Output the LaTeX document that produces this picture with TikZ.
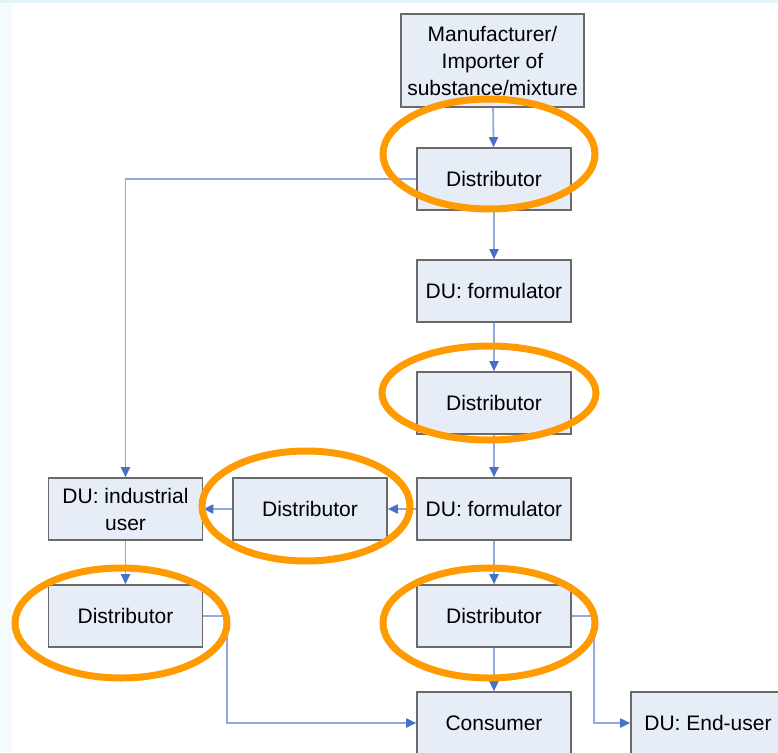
\documentclass[tikz,border=0pt]{standalone}
\usepackage{fontspec}
\setmainfont{Liberation Sans}
\usetikzlibrary{arrows.meta}

\definecolor{Cboxfill}{HTML}{E6EDF7}
\definecolor{Cboxline}{HTML}{6A6A6A}
\definecolor{Clinkblue}{HTML}{8FAADC}
\definecolor{Ctipblue}{HTML}{4472C4}
\definecolor{Cring}{HTML}{FF9A00}
\definecolor{Cstrip}{HTML}{E2F4F7}

\begin{document}
\begin{tikzpicture}[x=1pt,y=-1pt,
		actor/.style={draw=Cboxline,line width=1.6pt,fill=Cboxfill,
			minimum width=154pt,minimum height=62pt,inner sep=2pt,
			align=center,font=\fontsize{21}{27}\selectfont},
		link/.style={draw=Clinkblue,line width=1.8pt,
			-{Triangle[length=10pt,width=9pt,color=Ctipblue]}},
		ring/.style={draw=Cring,line width=7pt}]
		\useasboundingbox (0,0) rectangle (778,752);
		\fill[white] (0,0) rectangle (778,752);
		\fill[Cstrip] (0,0) rectangle (778,3);
		\fill[Cstrip!40] (0,3) rectangle (12,752);

		\node[actor,minimum width=183pt,minimum height=93pt] (maker) at (492.5,60.5)
		{Manufacturer/\\Importer of\\substance/mixture};
		\node[actor] (dist1) at (494,179) {Distributor};
		\node[actor] (form1) at (494,291) {DU: formulator};
		\node[actor] (dist2) at (494,403) {Distributor};
		\node[actor] (form2) at (494,509) {DU: formulator};
		\node[actor] (dist3) at (310,509) {Distributor};
		\node[actor] (induser) at (125.5,509) {DU: industrial\\user};
		\node[actor] (dist4) at (125.5,616) {Distributor};
		\node[actor] (dist5) at (494,616) {Distributor};
		\node[actor] (consumer) at (494,723) {Consumer};
		\node[actor] (enduser) at (708,723) {DU: End-user};

		\draw[link] (maker) -- (dist1);
		\draw[link] (dist1) -- (form1);
		\draw[link] (form1) -- (dist2);
		\draw[link] (dist2) -- (form2);
		\draw[link] (form2) -- (dist5);
		\draw[link] (dist5) -- (consumer);
		\draw[link] (form2) -- (dist3);
		\draw[link] (dist3) -- (induser);
		\draw[link] (induser) -- (dist4);
		\draw[link] (dist1.west) -| (induser.north);
		\draw[link] (dist4.east) -- ++(24,0) |- (consumer.west);
		\draw[link] (dist5.east) -- ++(22,0) |- (enduser.west);

		\draw[ring] (489,154) ellipse [x radius=106,y radius=55];
		\draw[ring] (489,393) ellipse [x radius=107,y radius=47];
		\draw[ring] (306,506) ellipse [x radius=104,y radius=55];
		\draw[ring] (121,623) ellipse [x radius=106,y radius=55];
		\draw[ring] (489,623) ellipse [x radius=106,y radius=55];
	\end{tikzpicture}
\end{document}
